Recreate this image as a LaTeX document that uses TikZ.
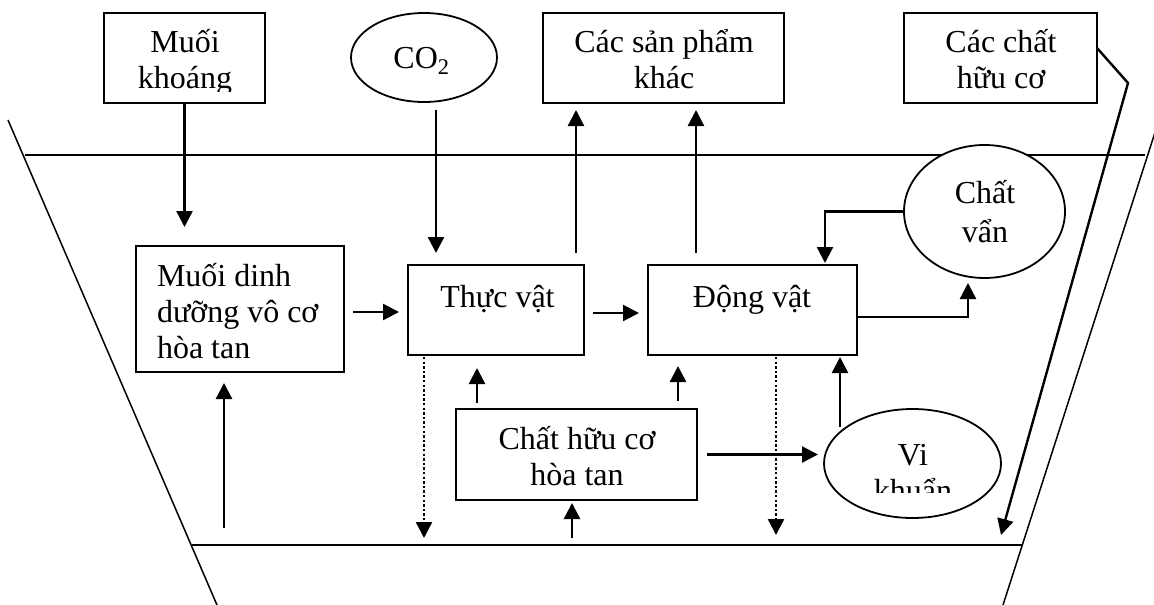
\documentclass[tikz,border=0pt]{standalone}
\usepackage{fontspec}
\setmainfont{Liberation Serif}
\usetikzlibrary{arrows.meta,shapes.geometric}
\lineskiplimit=-100pt
\begin{document}
\begin{tikzpicture}[x=1pt,y=-1pt,
  every node/.style={inner sep=0pt,outer sep=0pt},
  box/.style={draw,line width=1.8pt,fill=white,rectangle},
  oval/.style={draw,line width=1.8pt,fill=white,ellipse},
  lbl/.style={font=\fontsize{32}{36}\selectfont,align=center,anchor=base},
  frame/.style={line width=1.5pt},
  arr/.style={line width=2.4pt,-{Triangle[length=16pt,width=16pt]}},
  dots/.style={arr,dash pattern=on 2.4pt off 2.2pt},
]
\useasboundingbox (0,0) rectangle (1154,605);
\clip (0,0) rectangle (1154,605);

% water body: surface, bottom and the two banks
\coordinate (bl) at (192,545);
\coordinate (br) at (1022,545);
\draw[frame] (25,155) -- (1145,155);
\draw[frame] (bl) -- (br);
\draw[frame] (8,120) -- (217,605);
\draw[frame] (1159,120) -- (1003,605);

% outer sources and sinks
\node[box,minimum width=161pt,minimum height=90pt] (mk) at (184.5,58) {};
\node[oval,minimum width=146pt,minimum height=89pt] (co2) at (424,57.5) {};
\node[box,minimum width=241pt,minimum height=90pt] (sp) at (663.5,58) {};
\node[box,minimum width=193pt,minimum height=90pt] (ho) at (1000.5,58) {};

% compartments inside the water
\node[box,minimum width=208pt,minimum height=126pt] (md) at (240,309) {};
\node[box,minimum width=176pt,minimum height=90pt] (tv) at (496,310) {};
\node[box,minimum width=209pt,minimum height=90pt] (dv) at (752.5,310) {};
\node[oval,minimum width=161pt,minimum height=133pt] (cv) at (984.5,211.5) {};
\node[box,minimum width=241pt,minimum height=91pt] (ch) at (576.5,454.5) {};
\node[oval,minimum width=177pt,minimum height=109pt] (vk) at (912.5,463.5) {};

% labels (each placed by the baseline of its last line)
\begin{scope}
  \clip (104,13) rectangle (265,91);
  \node[lbl] (mk-t) at (185,88) {Muối\\khoáng};
\end{scope}
\node[lbl] (co2-t) at (421.5,68) {CO\textsubscript{2}};
\node[lbl] (sp-t) at (664,88) {Các sản phẩm\\khác};
\node[lbl] (ho-t) at (1001,88) {Các chất\\hữu cơ};
\node[lbl,align=left,anchor=base west] (md-t) at (157,358) {Muối dinh\\dưỡng vô cơ\\hòa tan};
\node[lbl] (tv-t) at (497.5,307) {Thực vật};
\node[lbl] (dv-t) at (752,307) {Động vật};
\node[lbl] (cv-t) at (985,242) {Chất\\[3pt]vẩn};
\node[lbl] (ch-t) at (577,485) {Chất hữu cơ\\hòa tan};
\begin{scope}
  \clip (824,409) rectangle (1001,492);
  \node[lbl] (vk-t) at (913,501) {Vi\\khuẩn};
\end{scope}

% guide positions for the connectors
\coordinate (c224) at (224,0);
\coordinate (c424) at (424,0);
\coordinate (c436) at (436,0);
\coordinate (c477) at (477,0);
\coordinate (c572) at (572,0);
\coordinate (c576) at (576,0);
\coordinate (c678) at (678,0);
\coordinate (c696) at (696,0);
\coordinate (c776) at (776,0);
\coordinate (c825) at (825,0);
\coordinate (c840) at (840,0);
\coordinate (c968) at (968,0);
\coordinate (r48) at (0,48);
\coordinate (r312) at (0,312);
\coordinate (r313) at (0,313);
\coordinate (r317) at (0,317);
\coordinate (r427) at (0,427);
\coordinate (kink) at (1128,83);
\coordinate (hoEnd) at (1001,535);

% connectors
\draw[arr,shorten >=19pt] (mk.south) -- (mk.south |- md.north);
\draw[arr,shorten <=8pt,shorten >=12pt] (co2.south -| c436) -- (tv.north -| c436);
\draw[arr,shorten <=12pt,shorten >=7pt] (tv.north -| c576) -- (sp.south -| c576);
\draw[arr,shorten <=12pt,shorten >=7pt] (dv.north -| c696) -- (sp.south -| c696);
\draw[arr,shorten >=2pt] (cv.west) -| (dv.north -| c825);
\draw[arr,shorten >=5pt] (dv.east |- r317) -| (cv.south -| c968);
\draw[arr,shorten <=9pt,shorten >=9pt] (md.east |- r312) -- (tv.west |- r312);
\draw[arr,shorten <=9pt,shorten >=9pt] (tv.east |- r313) -- (dv.west |- r313);
\draw[arr,shorten <=17pt,shorten >=11pt] (bl -| c224) -- (md.south -| c224);
\draw[dots,shorten <=2pt,shorten >=7pt] (tv.south -| c424) -- (bl -| c424);
\draw[dots,shorten <=2pt,shorten >=10pt] (dv.south -| c776) -- (bl -| c776);
\draw[arr,shorten <=6pt,shorten >=13pt] (ch.north -| c477) -- (tv.south -| c477);
\draw[arr,shorten <=8pt,shorten >=11pt] (ch.north -| c678) -- (dv.south -| c678);
\draw[arr,shorten <=7pt,shorten >=3pt] (bl -| c572) -- (ch.south -| c572);
\draw[arr,shorten <=10pt,shorten >=6pt] (ch.east) -- (ch.east -| vk.west);
\draw[arr,shorten >=2pt] (c840 |- r427) -- (dv.south -| c840);
\draw[arr] (ho.east |- r48) -- (kink) -- (hoEnd);
\end{tikzpicture}
\end{document}
